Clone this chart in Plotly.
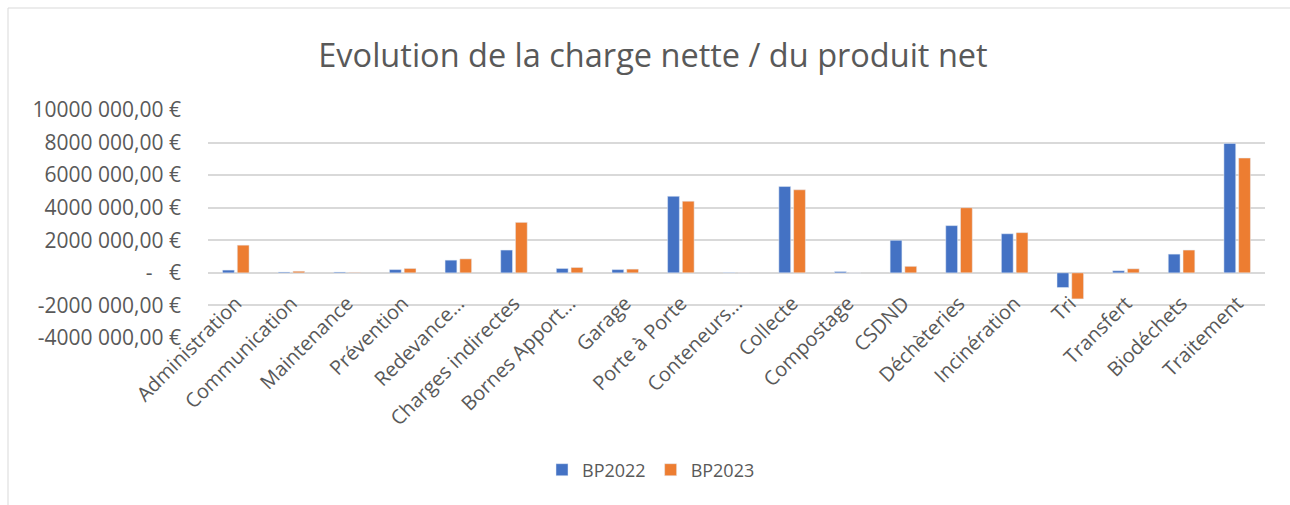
import plotly.graph_objects as go

categories = ["Administration", "Communication", "Maintenance", "Prévention", "Redevance…",
              "Charges indirectes", "Bornes Apport…", "Garage", "Porte à Porte", "Conteneurs…",
              "Collecte", "Compostage", "CSDND", "Déchèteries", "Incinération", "Tri",
              "Transfert", "Biodéchets", "Traitement"]
bp2022 = [170000, 50000, 50000, 200000, 780000, 1400000, 270000, 200000, 4700000, 20000,
          5300000, 80000, 2000000, 2900000, 2400000, -900000, 130000, 1150000, 7950000]
bp2023 = [1700000, 100000, 30000, 270000, 860000, 3100000, 330000, 230000, 4400000, 10000,
          5100000, 5000, 400000, 4000000, 2470000, -1600000, 250000, 1400000, 7050000]
tick_vals = [-4000000, -2000000, 0, 2000000, 4000000, 6000000, 8000000, 10000000]
tick_text = ["-4000 000,00 €", "-2000 000,00 €", "-   €", "2000 000,00 €", "4000 000,00 €",
             "6000 000,00 €", "8000 000,00 €", "10000 000,00 €"]

W, H = 1290, 505
ml, mr, mt, mb = 208, 25, 110, 167
ymin, ymax = -4000000, 10000000

fig = go.Figure()
fig.add_trace(go.Bar(name="BP2022", x=categories, y=bp2022, marker_color="#4472C4"))
fig.add_trace(go.Bar(name="BP2023", x=categories, y=bp2023, marker_color="#ED7D31"))

pw = W - ml - mr
ph = H - mt - mb
fig.add_shape(type="rect", xref="paper", yref="paper",
              x0=(8 - ml) / pw, x1=(W + 5 - ml) / pw,
              y0=(H - mb - (H + 5)) / ph, y1=(H - mb - 8) / ph,
              line=dict(color="#d9d9d9", width=1), fillcolor="rgba(0,0,0,0)", layer="below")

zero_pos = (0 - ymin) / (ymax - ymin)

fig.update_layout(
    width=W, height=H,
    margin=dict(l=ml, r=mr, t=mt, b=mb, autoexpand=False),
    paper_bgcolor="white", plot_bgcolor="white",
    font=dict(family="Open Sans", color="#595959"),
    title=dict(text="Evolution de la charge nette / du produit net",
               x=(653 - ml) / pw, xref="paper",
               xanchor="center", y=1 - 56 / H, yanchor="middle",
               font=dict(size=32.5, color="#595959", family="Open Sans")),
    barmode="group", bargap=0.47, bargroupgap=0.2,
    showlegend=True,
    legend=dict(orientation="h", x=(651 - ml) / pw, xanchor="center", xref="paper",
                y=(H - mb - 470) / ph, yanchor="middle", yref="paper",
                font=dict(size=18, color="#595959")),
    xaxis=dict(tickangle=-45, tickfont=dict(size=20, color="#595959"), showline=False,
               ticks="", automargin=False, anchor="free", position=zero_pos,
               domain=[0, 1], tickmode="array", tickvals=categories,
               ticklabelstandoff=14),
    yaxis=dict(range=[ymin, ymax], tickvals=tick_vals, ticktext=tick_text, domain=[0, 1],
               tickfont=dict(size=21, color="#595959"), gridcolor="#d9d9d9", gridwidth=1.5,
               zeroline=True, zerolinecolor="#d9d9d9", zerolinewidth=1.5, showline=False,
               ticks="", ticklen=0, automargin=False, ticklabelstandoff=26),
)
fig.write_html("out.html", config={"displayModeBar": False},
               post_script="document.body.style.margin='0';document.body.style.overflow='hidden';")
